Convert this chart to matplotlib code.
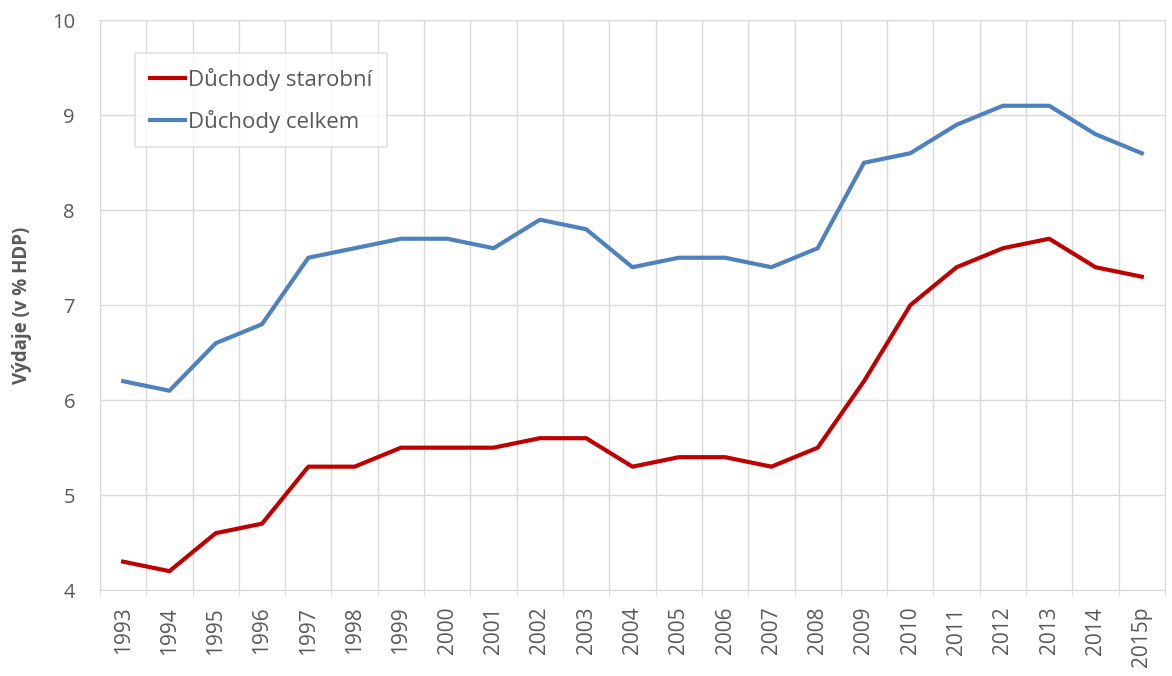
import matplotlib
matplotlib.use("Agg")
import matplotlib.pyplot as plt
import matplotlib.ticker as ticker

years = ["1993", "1994", "1995", "1996", "1997", "1998", "1999", "2000",
         "2001", "2002", "2003", "2004", "2005", "2006", "2007", "2008",
         "2009", "2010", "2011", "2012", "2013", "2014", "2015p"]
starobni = [4.3, 4.2, 4.6, 4.7, 5.3, 5.3, 5.5, 5.5, 5.5, 5.6, 5.6, 5.3,
            5.4, 5.4, 5.3, 5.5, 6.2, 7.0, 7.4, 7.6, 7.7, 7.4, 7.3]
celkem = [6.2, 6.1, 6.6, 6.8, 7.5, 7.6, 7.7, 7.7, 7.6, 7.9, 7.8, 7.4,
          7.5, 7.5, 7.4, 7.6, 8.5, 8.6, 8.9, 9.1, 9.1, 8.8, 8.6]

plt.rcParams["font.family"] = ["Open Sans", "DejaVu Sans"]

fig = plt.figure(figsize=(11.72, 6.76), dpi=100, facecolor="white")
ax = fig.add_axes([0.0853, 0.127, 0.9087, 0.843])

x = list(range(len(years)))
ax.plot(x, starobni, color="#C00000", linewidth=3, label="Důchody starobní",
        solid_joinstyle="round")
ax.plot(x, celkem, color="#4F81BD", linewidth=3, label="Důchody celkem",
        solid_joinstyle="round")

ax.set_xlim(-0.5, len(years) - 0.5)
ax.set_ylim(4, 10)
ax.yaxis.set_major_locator(ticker.MultipleLocator(1))
ax.set_xticks(x)
ax.set_xticklabels(years, rotation=90, color="#595959", fontsize=15)
ax.xaxis.set_minor_locator(ticker.FixedLocator([i + 0.5 for i in range(-1, len(years))]))
ax.tick_params(axis="x", which="major", length=0, pad=12)
ax.tick_params(axis="x", which="minor", length=4, color="#D9D9D9")
ax.tick_params(axis="y", length=0, labelcolor="#595959", labelsize=14.5, pad=18)

ax.grid(True, axis="y", color="#D9D9D9", linewidth=1)
ax.grid(True, axis="x", which="minor", color="#D9D9D9", linewidth=1)
ax.set_axisbelow(True)
for sp in ax.spines.values():
    sp.set_edgecolor("#D9D9D9")

ax.set_ylabel("Výdaje (v % HDP)", fontsize=13.5, fontweight="bold",
              color="#595959", labelpad=14)

leg = ax.legend(loc="upper left", bbox_to_anchor=(0.033, 0.942), fontsize=16,
                frameon=True, fancybox=False, edgecolor="#D9D9D9",
                handlelength=1.6, handletextpad=0.15, labelspacing=0.85,
                borderpad=0.65, borderaxespad=0)
leg.get_frame().set_linewidth(1.2)
for t in leg.get_texts():
    t.set_color("#595959")

fig.savefig("out.png", dpi=100, facecolor="white")
